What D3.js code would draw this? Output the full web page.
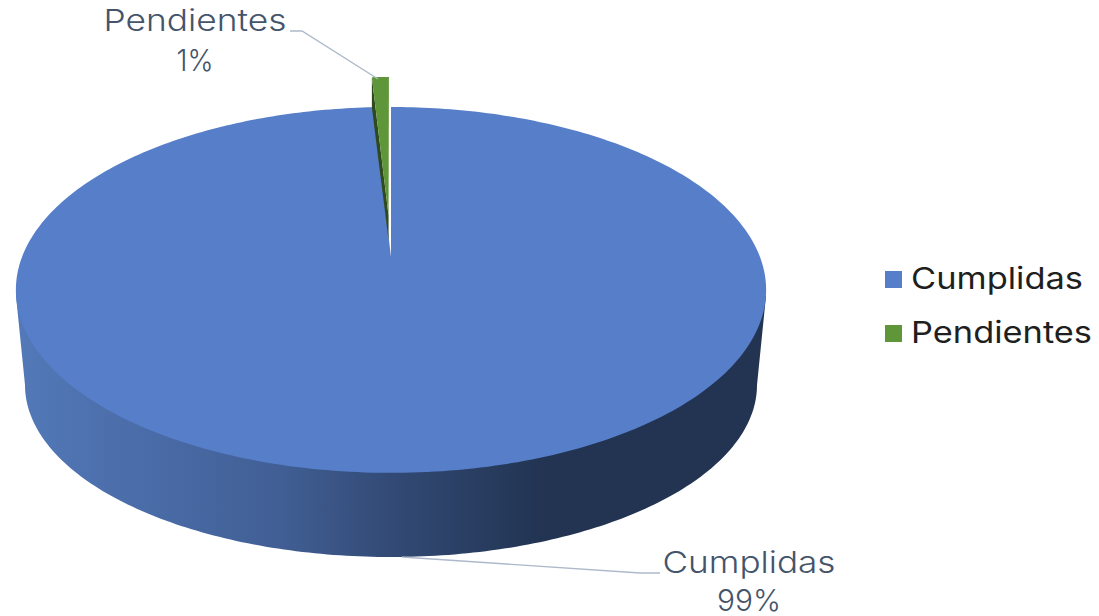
<!DOCTYPE html>
<html><head><meta charset="utf-8">
<script src="https://cdn.jsdelivr.net/npm/d3@7"></script>
<style>html,body{margin:0;padding:0;background:#fff}svg{display:block}</style>
</head><body><svg id="c" width="1099" height="616"></svg>
<script>
const categories = ["Cumplidas", "Pendientes"];
const values = [99.1, 0.9];
const percentLabels = ["99%", "1%"];
const colors = ["#567ec9", "#5f963a"];
const W = 1099, H = 616;
const FONT = "Inter, 'Open Sans', sans-serif";

const svg = d3.select("#c");

// perspective projection of the unit disc onto the page
const cx = 391, cy0 = 257, R = 369, S = 177, K = 0.18;
const proj = (u, v) => { const w = 1 + K * v; return [cx + R * u / w, cy0 - S * v / w]; };
const rim = (a, dv = 0, du = 0) => proj(du + Math.sin(a), dv + Math.cos(a));

const pie = d3.pie().sort(null).startAngle(0).endAngle(2 * Math.PI)(values);
const line = d3.line();
const arcPts = (a0, a1, dv = 0, du = 0, n = 360) =>
  d3.range(n + 1).map(i => rim(a0 + (a1 - a0) * i / n, dv, du));

// side wall gradient
const defs = svg.append("defs");
const grad = defs.append("linearGradient").attr("id", "side")
  .attr("gradientUnits", "userSpaceOnUse").attr("x1", 16).attr("x2", 766).attr("y1", 0).attr("y2", 0);
[[0, "#5379b8"], [0.17, "#4a6ca8"], [0.35, "#415f95"], [0.5, "#324a75"], [0.7, "#223452"], [1, "#223452"]]
  .forEach(s => grad.append("stop").attr("offset", s[0]).attr("stop-color", s[1]));

// side wall: top rim (ellipse) down to a slightly smaller bottom ellipse
const botCx = 391, botCy = 385, botRx = 366, botRy = 172;
const sidePts = [[16, 296]];
d3.range(0, 181).forEach(d => {
  const t = Math.PI - d * Math.PI / 180;
  sidePts.push([botCx + botRx * Math.cos(t), botCy + botRy * Math.sin(t)]);
});
sidePts.push([766, 296]);
svg.append("path").attr("d", line(sidePts) + "Z").attr("fill", "url(#side)");

// main slice top face
const main = pie[0];
svg.append("path")
  .attr("d", line([proj(0, 0), ...arcPts(main.startAngle, main.endAngle)]) + "Z")
  .attr("fill", colors[0]);

// exploded slice
const sl = pie[1];
const mid = (sl.startAngle + sl.endAngle) / 2;
const ex = 0.245;
const du = ex * Math.sin(mid), dv = ex * Math.cos(mid);
const apex = proj(du, dv);
const rimPts = arcPts(sl.startAngle, sl.endAngle, dv, du, 12);
const rimL = rimPts[0];
svg.append("path")
  .attr("d", line([rimL, apex, [apex[0], apex[1] + 25], [rimL[0], rimL[1] + 30]]) + "Z")
  .attr("fill", "#2f4a1f");
svg.append("path")
  .attr("d", line([apex, ...rimPts]) + "Z")
  .attr("fill", colors[1]);

// leader lines
const leaders = [[[290, 31], [302, 31], [378, 79]], [[660, 573], [640, 573], [402, 557]]];
leaders.forEach(l => svg.append("path").attr("d", line(l)).attr("fill", "none")
  .attr("stroke", "#adb9ca").attr("stroke-width", 1.4));

// data labels (stretched to the reference's wide letterforms)
const labelPos = [[749, 573, 611], [195, 31, 71]];
const nameWidth = [173, 183], pctWidth = [64, 37];
categories.forEach((c, i) => {
  const g = svg.append("g").attr("font-family", FONT).attr("font-size", 30)
    .attr("font-weight", 300).attr("fill", "#44546a").attr("text-anchor", "middle");
  g.append("text").attr("x", labelPos[i][0]).attr("y", labelPos[i][1])
    .attr("textLength", nameWidth[i]).attr("lengthAdjust", "spacingAndGlyphs").text(c);
  g.append("text").attr("x", labelPos[i][0]).attr("y", labelPos[i][2])
    .attr("textLength", pctWidth[i]).attr("lengthAdjust", "spacingAndGlyphs").text(percentLabels[i]);
});

// legend
const legY = d3.scalePoint().domain(categories).range([280, 334]);
const legWidth = [172, 181];
categories.forEach((c, i) => {
  svg.append("rect").attr("x", 885).attr("y", legY(c) - 9).attr("width", 17).attr("height", 17).attr("fill", colors[i]);
  svg.append("text").attr("x", 911).attr("y", legY(c) + 9).attr("font-family", FONT)
    .attr("font-size", 30).attr("fill", "#1f1f1f")
    .attr("textLength", legWidth[i]).attr("lengthAdjust", "spacingAndGlyphs").text(c);
});
</script></body></html>
